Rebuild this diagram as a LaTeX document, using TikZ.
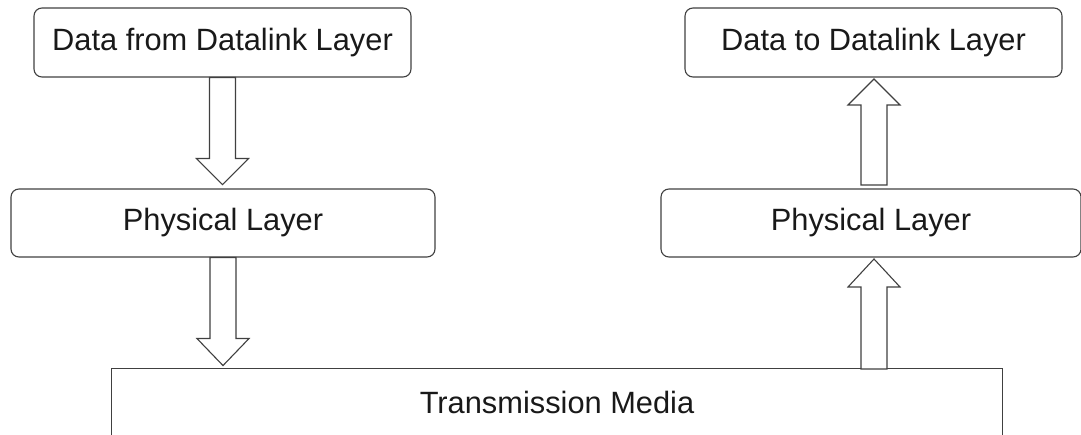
\documentclass[tikz,border=0pt]{standalone}
\usepackage{fontspec}
\setmainfont{Liberation Sans}
\begin{document}
\begin{tikzpicture}[x=1pt,y=-1pt,
  box/.style={draw=black!75, line width=1.1pt, rounded corners=8pt, inner sep=0pt,
    text=black!90, font=\fontsize{30.8}{34}\selectfont},
  media/.style={inner sep=0pt, text=black!90, font=\fontsize{30.8}{34}\selectfont},
  edge/.style={draw=black!75, line width=1.1pt},
  fat/.style={draw=black!75, line width=1.1pt, fill=white, line join=miter}]
\useasboundingbox (0,0) rectangle (1081,435);
\clip (0,0) rectangle (1081,435);
\node[box, minimum width=377pt, minimum height=69pt] (dfrom) at (222.5,42.5) {Data from Datalink Layer};
\node[box, minimum width=424pt, minimum height=68pt] (physL) at (223,223) {Physical Layer};
\node[box, minimum width=377pt, minimum height=69pt] (dto) at (873.5,42.5) {Data to Datalink Layer};
\node[box, minimum width=420pt, minimum height=68pt] (physR) at (871,223) {Physical Layer};
\node[media, minimum width=890pt, minimum height=66pt] (media) at (557,402) {Transmission Media};
\draw[edge] (media.south west) ++(0,40) -- (media.north west) -- (media.north east) -- ++(0,106);
% down arrow: dfrom -> physL
\draw[fat] (dfrom.south) ++(-13,0) -- ++(0,81) -- ++(-13,0) -- ++(26,26) -- ++(26,-26) -- ++(-13,0) -- ++(0,-81) -- cycle;
% down arrow: physL -> media
\draw[fat] (physL.south) ++(-13,0) -- ++(0,81) -- ++(-13,0) -- ++(26,27) -- ++(26,-27) -- ++(-13,0) -- ++(0,-81) -- cycle;
% up arrow: media -> physR
\coordinate (upA) at (874,369);
\draw[fat] (upA) ++(-13,0) -- ++(0,-82) -- ++(-13,0) -- ++(26,-28) -- ++(26,28) -- ++(-13,0) -- ++(0,82) -- cycle;
% up arrow: physR -> dto
\coordinate (upB) at (874,185);
\draw[fat] (upB) ++(-13,0) -- ++(0,-80) -- ++(-13,0) -- ++(26,-26) -- ++(26,26) -- ++(-13,0) -- ++(0,80) -- cycle;
\end{tikzpicture}
\end{document}
